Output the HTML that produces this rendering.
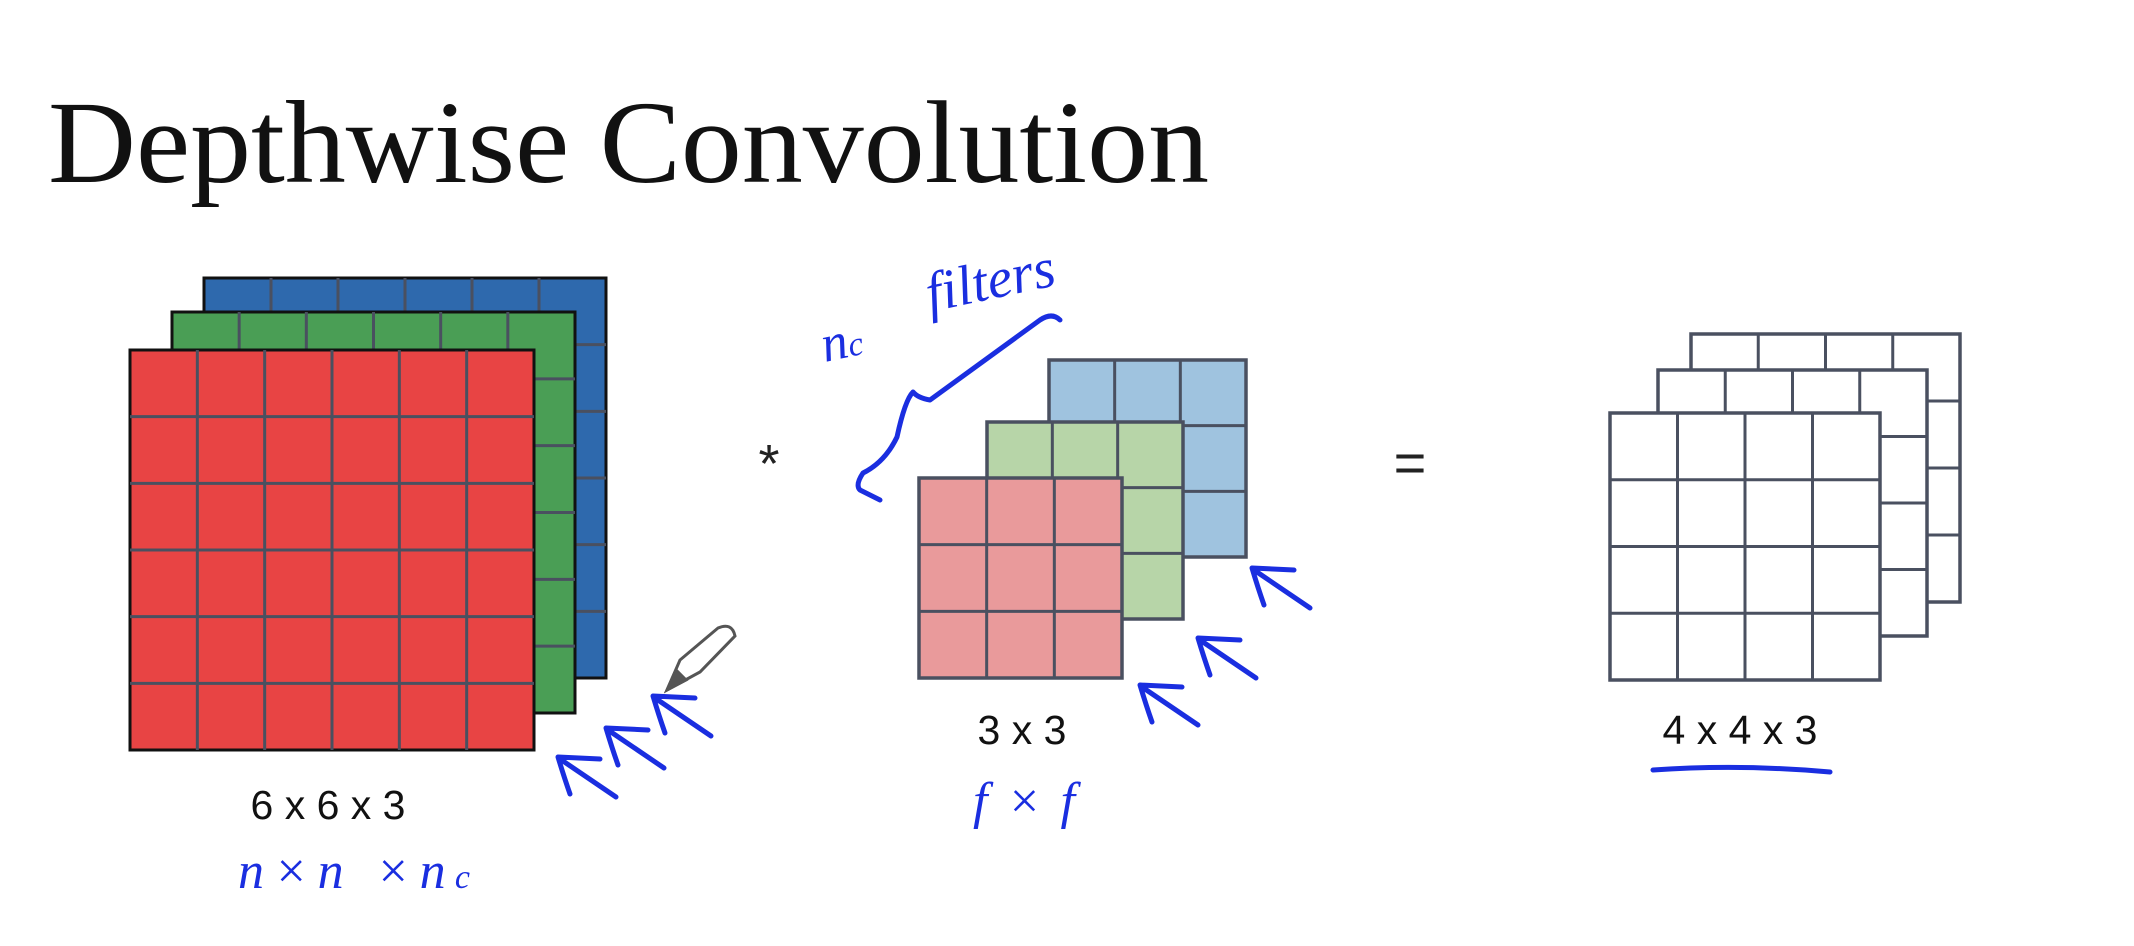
<!DOCTYPE html>
<html><head><meta charset="utf-8"><style>
html,body{margin:0;padding:0;background:#fff}
svg{display:block}
</style></head><body>
<svg id="s" width="2134" height="946" viewBox="0 0 2134 946">
<rect width="2134" height="946" fill="#fff"/>
<text x="48" y="182" font-family="Liberation Serif, serif" font-size="118" fill="#111" textLength="1161" lengthAdjust="spacingAndGlyphs">Depthwise Convolution</text>
<g id="grids"></g>
<text x="769" y="482" font-family="Liberation Sans, sans-serif" font-size="54" fill="#222" text-anchor="middle">*</text>
<text x="1410" y="482" font-family="Liberation Sans, sans-serif" font-size="56" fill="#222" text-anchor="middle">=</text>
<text x="328" y="819" font-family="Liberation Sans, sans-serif" font-size="41" fill="#111" text-anchor="middle">6 x 6 x 3</text>
<text x="1022" y="744" font-family="Liberation Sans, sans-serif" font-size="41" fill="#111" text-anchor="middle">3 x 3</text>
<text x="1740" y="744" font-family="Liberation Sans, sans-serif" font-size="41" fill="#111" text-anchor="middle">4 x 4 x 3</text>
<g fill="none" stroke="#1a2ee0" stroke-width="5" stroke-linecap="round" stroke-linejoin="round">
<path d="M1653 770 Q1740 764 1830 772"/>
<path d="M1060 320 Q1052 312 1040 320 L930 400 Q918 398 913 392 Q905 400 897 437 Q885 462 863 473 Q855 485 860 490 L880 500"/>
<g id="arrows"></g>
</g>
<g font-family="Liberation Serif, serif" font-style="italic" fill="#1a2ee0">
<text x="238" y="888" font-size="52" textLength="232">n×n ×n<tspan font-size="34">c</tspan></text>
<text x="973" y="818" font-size="52" textLength="102">f×f</text>
<text x="825" y="362" font-size="52" transform="rotate(-12 825 362)">n<tspan font-size="34">c</tspan></text>
<text x="930" y="312" font-size="56" transform="rotate(-12 930 312)">filters</text>
</g>
<g fill="#fff" stroke="#555" stroke-width="3">
<path d="M667 690 L680 660 L718 628 Q732 622 735 636 L700 672 Z"/>
<path d="M667 690 L676 670 L686 680 Z" fill="#555"/>
</g>
</svg>
<script>
const layerColors=["#2e69ad","#4a9e55","#e84444","#9fc3df","#b7d5a8","#e99a9b","#ffffff","#ffffff","#ffffff"];
const layerBoxes=[[204,278,402,400],[172,312,403,401],[130,350,404,400],[1049,360,197,197],[987,422,196,197],[919,478,203,200],[1691,334,269,268],[1658,370,269,266],[1610,413,270,267]];
const layerCells=[6,6,6,3,3,3,4,4,4];
const layerNames=["input-blue-channel","input-green-channel","input-red-channel","filter-blue","filter-green","filter-red","output-channel-3","output-channel-2","output-channel-1"];
const NS="http://www.w3.org/2000/svg";
const g=document.getElementById('grids');
layerBoxes.forEach((b,i)=>{
  const grp=document.createElementNS(NS,'g');
  
  
  const r=document.createElementNS(NS,'rect');
  r.setAttribute('x',b[0]);r.setAttribute('y',b[1]);r.setAttribute('width',b[2]);r.setAttribute('height',b[3]);
  r.setAttribute('fill',layerColors[i]);r.setAttribute('stroke',i<3?'#111':'#4a5060');r.setAttribute('stroke-width',i<3?3:3.5);
  grp.appendChild(r);
  const n=layerCells[i];
  for(let k=1;k<n;k++){
    const x=b[0]+b[2]*k/n,y=b[1]+b[3]*k/n;
    const l1=document.createElementNS(NS,'line');
    l1.setAttribute('x1',x);l1.setAttribute('x2',x);l1.setAttribute('y1',b[1]);l1.setAttribute('y2',b[1]+b[3]);
    const l2=document.createElementNS(NS,'line');
    l2.setAttribute('x1',b[0]);l2.setAttribute('x2',b[0]+b[2]);l2.setAttribute('y1',y);l2.setAttribute('y2',y);
    [l1,l2].forEach(l=>{l.setAttribute('stroke','#4a5060');l.setAttribute('stroke-width',3);grp.appendChild(l);});
  }
  g.appendChild(grp);
});
const arrowVertices=[[558,757],[606,728],[653,696],[1140,685],[1198,638],[1252,568]];
const ag=document.getElementById('arrows');
arrowVertices.forEach(v=>{
  const p=document.createElementNS(NS,'path');
  
  
  const [x,y]=v;
  p.setAttribute('d',`M${x+42} ${y+2} L${x} ${y} Q${x+6} ${y+20} ${x+12} ${y+37} M${x+2} ${y+2} L${x+58} ${y+40}`);
  ag.appendChild(p);
});
</script>
</body></html>
